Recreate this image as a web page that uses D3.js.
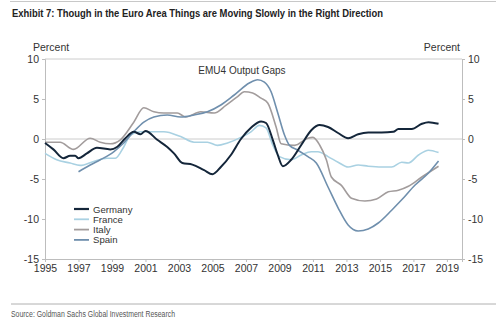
<html>
<head>
<meta charset="utf-8">
<style>
    body {
        margin: 0;
        background: #ffffff;
        font-family: Arial, "Liberation Sans", Helvetica, sans-serif;
    }
</style>
<script src="https://d3js.org/d3.v7.min.js"></script>
</head>
<body>
<svg id="chart"></svg>
</body>
<script>
// output gaps, percent: [year, value]
let germany = [
  [1995.0,-0.5],[1995.5,-1.3],[1996.1,-2.4],[1996.5,-2.1],[1996.8,-2.1],[1997.0,-2.4],
  [1997.5,-1.8],[1998.1,-1.1],[1998.9,-1.3],[1999.3,-1.0],[1999.8,0.1],[2000.3,0.9],
  [2000.7,0.6],[2001.0,1.0],[2001.7,-0.1],[2002.3,-1.0],[2002.7,-1.8],[2003.2,-3.0],
  [2003.8,-3.2],[2004.5,-3.9],[2005.0,-4.4],[2005.5,-3.5],[2006.1,-2.0],[2006.7,0.0],
  [2007.3,1.4],[2007.9,2.2],[2008.2,2.0],[2008.6,-0.1],[2008.9,-2.0],[2009.2,-3.4],
  [2009.7,-2.6],[2010.3,-0.75],[2010.9,1.1],[2011.4,1.75],[2011.9,1.5],[2012.5,0.75],
  [2013.1,0.1],[2013.7,0.6],[2014.3,0.8],[2015.1,0.8],[2015.8,0.9],[2016.1,1.25],
  [2016.9,1.25],[2017.5,1.9],[2017.9,2.1],[2018.5,1.9]
]
let france = [
  [1995.0,-1.8],[1995.7,-2.6],[1996.5,-3.0],[1997.1,-3.3],[1997.9,-2.8],[1998.7,-2.4],
  [1999.2,-2.4],[1999.7,-1.0],[2000.1,0.5],[2000.7,0.9],[2001.3,0.9],[2002.1,0.9],
  [2003.1,0.3],[2003.9,-0.4],[2004.7,-0.4],[2005.3,-0.8],[2005.9,-0.5],[2006.7,0.2],
  [2007.3,0.9],[2007.8,1.7],[2008.2,1.4],[2008.6,-0.75],[2009.0,-2.2],[2009.7,-2.6],
  [2010.3,-2.0],[2010.9,-1.6],[2011.3,-1.6],[2011.9,-2.2],[2012.5,-2.9],[2013.1,-3.5],
  [2013.7,-3.25],[2014.3,-3.4],[2015.1,-3.5],[2015.7,-3.5],[2016.3,-2.9],[2016.7,-3.0],
  [2017.3,-2.0],[2017.9,-1.4],[2018.5,-1.7]
]
let italy = [
  [1995.0,-0.4],[1995.9,-0.4],[1996.7,-1.3],[1997.7,0.1],[1998.3,-0.4],[1998.9,-0.6],
  [1999.5,-0.1],[2000.3,2.1],[2000.9,3.9],[2001.5,3.4],[2002.1,3.25],[2002.9,3.25],
  [2003.4,2.75],[2004.3,3.4],[2005.1,3.25],[2005.8,4.2],[2006.5,5.3],[2006.9,5.9],
  [2007.4,5.75],[2007.9,5.1],[2008.3,4.5],[2008.8,1.5],[2009.1,-0.6],[2009.9,-0.8],
  [2010.7,0.1],[2011.0,0.2],[2011.4,-0.75],[2011.8,-2.6],[2012.1,-4.75],[2012.7,-5.8],
  [2013.3,-7.4],[2014.1,-7.75],[2014.8,-7.5],[2015.5,-6.6],[2016.1,-6.4],[2016.7,-5.9],
  [2017.5,-4.75],[2018.5,-3.4]
]
let spain = [
  [1997.0,-4.1],[1997.7,-3.25],[1998.3,-2.6],[1999.1,-1.6],[1999.7,-0.5],[2000.3,0.9],
  [2000.9,2.1],[2001.5,2.75],[2002.3,3.0],[2003.1,2.75],[2003.9,3.0],[2004.7,3.4],
  [2005.5,4.25],[2006.3,5.5],[2007.2,7.0],[2007.7,7.4],[2008.1,7.1],[2008.5,5.9],
  [2008.9,3.25],[2009.3,0.5],[2009.6,-0.8],[2010.1,-1.4],[2010.7,-2.2],[2011.2,-3.0],
  [2011.9,-6.0],[2012.5,-8.6],[2013.1,-10.75],[2013.7,-11.5],[2014.3,-11.25],[2014.9,-10.5],
  [2015.7,-8.9],[2016.3,-7.6],[2017.1,-5.75],[2017.9,-4.25],[2018.5,-2.75]
]
let seriesNames = ["Germany", "France", "Italy", "Spain"]
let seriesColors = ["#14263a", "#a9d1e2", "#a29c9c", "#6f8fad"]
let seriesWidths = [2, 1.6, 1.6, 1.6]
let yTicks = [10, 5, 0, -5, -10, -15]
let xTicks = [1995, 1997, 1999, 2001, 2003, 2005, 2007, 2009, 2011, 2013, 2015, 2017, 2019]

let width = 500, height = 321
let margin = {left: 45, right: 38, top: 59, bottom: 62}
let svg = d3.select("#chart").attr("width", width).attr("height", height)

let x = d3.scaleLinear().domain([1995, 2019.9]).range([margin.left, width - margin.right])
let y = d3.scaleLinear().domain([-15, 10]).range([height - margin.bottom, margin.top])

// title and rules
svg.append("line").attr("x1", 10).attr("x2", 496).attr("y1", 1.5).attr("y2", 1.5)
   .attr("stroke", "#c8c8c8").attr("stroke-width", 1)
svg.append("text").attr("x", 12).attr("y", 16.5)
   .attr("font-family", "'Liberation Sans Narrow', 'Arial Narrow', Arial, sans-serif")
   .attr("font-weight", "bold").attr("font-size", 11.5).attr("fill", "#222")
   .attr("textLength", 371).attr("lengthAdjust", "spacingAndGlyphs")
   .text("Exhibit 7: Though in the Euro Area Things are Moving Slowly in the Right Direction")

svg.append("line").attr("x1", 11).attr("x2", 496).attr("y1", 304).attr("y2", 304)
   .attr("stroke", "#b0b0b0").attr("stroke-width", 1)
svg.append("text").attr("x", 11).attr("y", 317)
   .attr("font-family", "'Liberation Sans Narrow', 'Arial Narrow', Arial, sans-serif")
   .attr("font-size", 8.5).attr("fill", "#555")
   .attr("textLength", 164).attr("lengthAdjust", "spacingAndGlyphs")
   .text("Source: Goldman Sachs Global Investment Research")

// gridlines: top and zero
svg.selectAll("line.grid").data([10, 0]).enter().append("line")
   .attr("class", "grid")
   .attr("x1", x(1995)).attr("x2", x(2019.9))
   .attr("y1", d => y(d)).attr("y2", d => y(d))
   .attr("stroke", "#cccccc").attr("stroke-width", 1)

// axes
let plain = d => String(d)
let leftAxis = d3.axisLeft(y).tickValues(yTicks).tickFormat(plain).tickSize(3).tickPadding(3)
let rightAxis = d3.axisRight(y).tickValues(yTicks).tickFormat(plain).tickSize(3).tickPadding(3)
let bottomAxis = d3.axisBottom(x).tickValues(xTicks).tickFormat(plain).tickSize(3).tickPadding(3)

function styleAxis(g) {
  g.selectAll("path").attr("stroke", "#bdbdbd")
  g.selectAll("line").attr("stroke", "#bdbdbd")
  g.selectAll("text").attr("fill", "#333").attr("font-size", 10.5)
   .attr("font-family", "Arial, 'Liberation Sans', sans-serif")
}
svg.append("g").attr("transform", `translate(${x(1995)},0)`).call(leftAxis).call(styleAxis)
svg.append("g").attr("transform", `translate(${x(2019.9)},0)`).call(rightAxis).call(styleAxis)
svg.append("g").attr("transform", `translate(0,${y(-15)})`).call(bottomAxis).call(styleAxis)

// axis titles
svg.append("text").attr("x", 33).attr("y", 51).attr("font-size", 10.5).attr("fill", "#333").text("Percent")
svg.append("text").attr("x", 460).attr("y", 51).attr("font-size", 10.5).attr("fill", "#333")
   .attr("text-anchor", "end").text("Percent")
svg.append("text").attr("x", 242).attr("y", 74).attr("font-size", 10).attr("fill", "#333")
   .attr("text-anchor", "middle").text("EMU4 Output Gaps")

// lines
let line = d3.line().x(d => x(d[0])).y(d => y(d[1])).curve(d3.curveMonotoneX)
let allSeries = [germany, france, italy, spain]
let drawOrder = [1, 2, 3, 0]
drawOrder.forEach(i => {
  svg.append("path").datum(allSeries[i])
     .attr("d", line)
     .attr("fill", "none")
     .attr("stroke", seriesColors[i])
     .attr("stroke-width", seriesWidths[i])
     .attr("stroke-linejoin", "round")
})

// legend
let legend = svg.append("g").attr("transform", "translate(74,209)")
seriesNames.forEach((name, i) => {
  let row = legend.append("g").attr("transform", `translate(0,${i * 10.3})`)
  row.append("line").attr("x1", 0).attr("x2", 15).attr("y1", 0).attr("y2", 0)
     .attr("stroke", seriesColors[i]).attr("stroke-width", i == 0 ? 2.2 : 1.8)
  row.append("text").attr("x", 19).attr("y", 3.5).attr("font-size", 9.6).attr("fill", "#333").text(name)
})
</script>
</html>
